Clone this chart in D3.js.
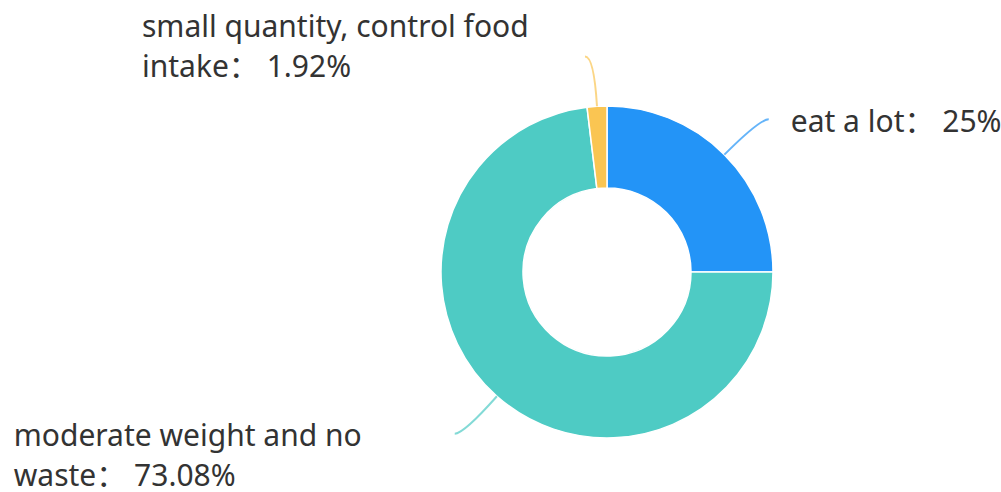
<!DOCTYPE html>
<html>
<head>
<meta charset="utf-8">
<script src="https://cdn.jsdelivr.net/npm/d3@7"></script>
<style>
  html, body { margin: 0; padding: 0; background: #fff; }
  svg { display: block; }
  text { font-family: "Noto Sans", "Noto Sans CJK SC", sans-serif; fill: #333; }
</style>
</head>
<body>
<svg id="chart" width="1001" height="492"></svg>
<script>
// Survey answers and their shares (percent)
const categories = ["eat a lot", "moderate weight and no waste", "small quantity, control food intake"];
const shares = [25, 73.08, 1.92];
const colors = ["#2394F7", "#4ECBC4", "#FAC552"];
// Label text broken into lines as drawn
const labelLines = [
  ["eat a lot\uFF1A 25%"],
  ["moderate weight and no", "waste\uFF1A 73.08%"],
  ["small quantity, control food", "intake\uFF1A 1.92%"]
];

const W = 1001, H = 492;
const cx = 607, cy = 272;
const outerR = 166, innerR = 84;
const lineLen1 = 50, lineLen2 = 9;
const fontSize = 30, lineHeight = 40;

const svg = d3.select("#chart");
const g = svg.append("g").attr("transform", `translate(${cx},${cy})`);

const pie = d3.pie().sort(null).value(d => d);
const arcs = pie(shares);
const arc = d3.arc().innerRadius(innerR).outerRadius(outerR);

g.selectAll("path.slice")
  .data(arcs)
  .join("path")
  .attr("class", "slice")
  .attr("d", arc)
  .attr("fill", (d, i) => colors[i])
  .attr("stroke", "#fff")
  .attr("stroke-width", 1.5)
  .attr("stroke-linejoin", "round");

// Leader lines: radial segment then short horizontal, smoothed with a quadratic curve
function leader(d) {
  const a = (d.startAngle + d.endAngle) / 2;
  const sx = Math.sin(a), sy = -Math.cos(a);
  const p0 = [outerR * sx, outerR * sy];
  const p1 = [(outerR + lineLen1) * sx, (outerR + lineLen1) * sy];
  const dir = sx >= 0 ? 1 : -1;
  const p2 = [p1[0] + dir * lineLen2, p1[1]];
  return { p0, p1, p2, dir };
}

// Offsets of each label's first baseline from its leader end
const labelOffsets = [
  { dx: 22, dy: 13 },
  { dx: -441, dy: 12 },
  { dx: -443, dy: -19 }
];

arcs.forEach((d, i) => {
  const L = leader(d);
  const p = d3.path();
  p.moveTo(L.p0[0], L.p0[1]);
  p.quadraticCurveTo(L.p1[0], L.p1[1], L.p2[0], L.p2[1]);
  g.append("path")
    .attr("d", p.toString())
    .attr("fill", "none")
    .attr("stroke", colors[i])
    .attr("stroke-opacity", 0.7)
    .attr("stroke-width", 2);

  const off = labelOffsets[i];
  const t = g.append("text")
    .attr("x", L.p2[0] + off.dx)
    .attr("y", L.p2[1] + off.dy)
    .attr("font-size", fontSize);
  labelLines[i].forEach((line, k) => {
    t.append("tspan")
      .attr("x", L.p2[0] + off.dx)
      .attr("dy", k === 0 ? 0 : lineHeight)
      .text(line);
  });
});
</script>
</body>
</html>
